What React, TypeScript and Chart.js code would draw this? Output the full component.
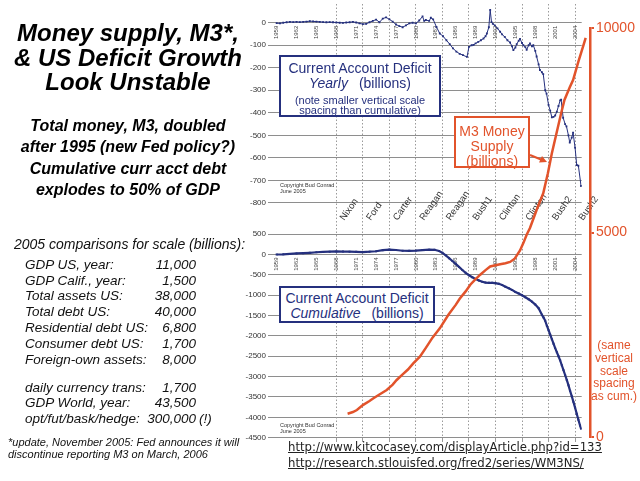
import React, { useEffect, useRef } from "react";
import { Chart, registerables } from "chart.js";

Chart.register(...registerables);

// ---------------- data ----------------
const TICK_YEARS = [1959, 1962, 1965, 1968, 1971, 1974, 1977, 1980, 1983, 1986, 1989, 1992, 1995, 1998, 2001, 2004];
const ELECTION_YEARS = [1968, 1972, 1976, 1980, 1984, 1988, 1992, 1996, 2000, 2004];
const PRESIDENTS = ["Nixon", "Ford", "Carter", "Reagan", "Reagan", "Bush1", "Clinton", "Clinton", "Bush2", "Bush2"];
const YEARLY_TICKS = [0, -100, -200, -300, -400, -500, -600, -700, -800];
const CUM_TICKS = [500, 0, -500, -1000, -1500, -2000, -2500, -3000, -3500, -4000, -4500];
const M3_TICKS = [0, 5000, 10000];

// Current account deficit, yearly rate (billions)
const YEARLY_X = [
  1959.0, 1959.5, 1960.0, 1960.5, 1961.0, 1961.5, 1962.0, 1962.5, 1963.0, 1963.5,
  1964.0, 1964.5, 1965.0, 1965.5, 1966.0, 1966.5, 1967.0, 1967.5, 1968.0, 1968.5,
  1969.0, 1969.5, 1970.0, 1970.5, 1971.0, 1971.5, 1972.0, 1972.5, 1973.0, 1973.5,
  1974.0, 1974.5, 1975.0, 1975.5, 1976.0, 1976.5, 1977.0, 1977.5, 1978.0, 1978.5,
  1979.0, 1979.5, 1980.0, 1980.5, 1981.0, 1981.25, 1981.5, 1982.0, 1982.25, 1982.6,
  1983.1, 1983.6, 1984.1, 1984.6, 1985.1, 1985.6, 1986.1, 1986.6, 1987.1, 1987.7,
  1988.0, 1988.4, 1988.7, 1989.0, 1989.4, 1989.8, 1990.2, 1990.5, 1990.7, 1991.0,
  1991.2, 1991.4, 1991.6, 1991.9, 1992.3, 1992.7, 1993.0, 1993.4, 1993.8, 1994.2,
  1994.5, 1994.7, 1995.0, 1995.2, 1995.5, 1995.7, 1996.0, 1996.2, 1996.5, 1996.7,
  1997.0, 1997.2, 1997.5, 1997.7, 1998.0, 1998.2, 1998.5, 1998.7, 1999.0, 1999.2,
  1999.5, 1999.7, 2000.0, 2000.25, 2000.5, 2000.75, 2001.0, 2001.25, 2001.5, 2001.75,
  2001.9, 2002.2, 2002.5, 2002.7, 2003.0, 2003.2, 2003.5, 2003.7, 2004.0, 2004.25,
  2004.5, 2004.9,
];
const YEARLY_VALUES = [
  -2, -3, 0, 2, 4, 3, 4, 3, 4, 5,
  7, 6, 5, 4, 3, 2, 3, 2, 1, 0,
  -1, 1, 2, 4, 1, -3, -6, -5, 2, 8,
  14, 2, 18, 24, 15, 5, -8, -15, -20, -12,
  -3, 0, -3, 10, 28, 8, 12, 8, 22, 15,
  -19, -48, -60, -78, -95, -114, -128, -138, -144, -152,
  -107, -100, -98, -92, -85, -78, -70, -60, -48, -20,
  57, 3, -5, -12, -25, -40, -52, -63, -78, -88,
  -105, -122, -110, -95, -80, -72, -90, -100, -108, -120,
  -100, -92, -105, -100, -125, -150, -185, -210, -220, -228,
  -300, -315, -365, -390, -420, -418, -412, -395, -370, -345,
  -342, -422, -450, -460, -500, -532, -510, -488, -555, -632,
  -635, -725,
];

// Current account deficit, cumulative (billions)
const CUM_X = [
  1959, 1960, 1961, 1962, 1963, 1964, 1965, 1966, 1967, 1968,
  1969, 1970, 1971, 1972, 1973, 1974, 1975, 1976, 1977, 1978,
  1979, 1980, 1981, 1982, 1982.8, 1983.5, 1984.0, 1984.5, 1985.0, 1985.5,
  1986.0, 1986.5, 1987.0, 1987.5, 1988.0, 1988.5, 1989.0, 1989.5, 1990.0, 1990.5,
  1991.0, 1991.5, 1992.0, 1992.5, 1993.0, 1993.5, 1994.0, 1994.5, 1995.0, 1995.5,
  1996.0, 1996.5, 1997.0, 1997.5, 1998.0, 1998.5, 1999.0, 1999.25, 1999.5, 1999.75,
  2000.0, 2000.25, 2000.5, 2000.75, 2001.0, 2001.25, 2001.5, 2001.75, 2002.0, 2002.25,
  2002.5, 2002.75, 2003.0, 2003.25, 2003.5, 2003.75, 2004.0, 2004.25, 2004.5, 2004.75,
  2004.9,
];
const CUM_VALUES = [
  0, 5, 15, 25, 32, 42, 55, 62, 70, 75,
  72, 70, 66, 60, 68, 80, 105, 120, 110, 92,
  90, 95, 108, 118, 115, 85, 40, -20, -90, -160,
  -230, -305, -380, -450, -510, -560, -600, -640, -670, -690,
  -695, -695, -705, -720, -750, -790, -830, -870, -920, -960,
  -1000, -1050, -1100, -1160, -1230, -1320, -1480, -1550, -1630, -1750,
  -1860, -1970, -2080, -2190, -2300, -2400, -2500, -2600, -2720, -2840,
  -2960, -3080, -3210, -3350, -3480, -3620, -3760, -3910, -4060, -4200,
  -4280,
];

// M3 money supply (billions)
const M3_X = [
  1969.7, 1970.5, 1971.1, 1972.0, 1973.0, 1973.6, 1974.5, 1975.6, 1976.5, 1977.1,
  1978.0, 1978.8, 1979.6, 1980.6, 1981.5, 1982.5, 1983.6, 1984.9, 1986.0, 1986.6,
  1987.5, 1988.2, 1989.0, 1989.7, 1990.5, 1991.2, 1992.0, 1992.7, 1993.5, 1994.2,
  1994.9, 1995.7, 1996.2, 1996.7, 1997.2, 1998.2, 1999.2, 1999.9, 2000.5, 2001.2,
  2001.9, 2002.4, 2003.2, 2003.7, 2004.5, 2005.2, 2005.6,
];
const M3_VALUES = [
  570, 610, 660, 780, 880, 946, 1040, 1149, 1280, 1394,
  1530, 1650, 1800, 1963, 2180, 2430, 2657, 2990, 3230, 3380,
  3560, 3724, 3860, 3968, 4080, 4170, 4200, 4225, 4250, 4280,
  4360, 4560, 4740, 4946, 5110, 5550, 5958, 6447, 6936, 7425,
  7914, 8240, 8550, 8729, 9176, 9543, 9760,
];

// text content
const TITLE_LINES = ["Money supply, M3*,", "& US Deficit Growth", "Look Unstable"];
const NOTE_LINES = ["Total money, M3, doubled", "after 1995 (new Fed policy?)", "Cumulative curr acct debt", "explodes to 50% of GDP"];
const COMPARE_HEADER = "2005 comparisons for scale (billions):";
const COMPARE_LABELS = [
  "GDP US, year:", "GDP Calif., year:", "Total assets US:", "Total debt US:", "Residential debt US:",
  "Consumer debt US:", "Foreign-own assets:", "daily currency trans:", "GDP World, year:", "opt/fut/bask/hedge:",
];
const COMPARE_VALUES = ["11,000", "1,500", "38,000", "40,000", "6,800", "1,700", "8,000", "1,700", "43,500", "300,000"];
const COMPARE_NOTES = ["", "", "", "", "", "", "", "", "", "(!)"];
const FOOTNOTE_LINES = ["*update, November 2005: Fed announces it will", "discontinue reporting M3 on March, 2006"];
const URLS = ["http://www.kitcocasey.com/displayArticle.php?id=133", "http://research.stlouisfed.org/fred2/series/WM3NS/"];
const SAME_SCALE_LINES = ["(same", "vertical", "scale", "spacing", "as cum.)"];

// ---------------- layout / style ----------------
const W = 640, H = 481;
const PLOT_LEFT = 272, PLOT_RIGHT = 581.7, PLOT_BOTTOM = 437.7;
const Y_LABEL_W = 40;
const SPLIT_PX = 216; // boundary between the two stacked value axes (inside the gap)
const X_MIN = 1958.3, X_MAX = 2005.0;
const TOP_ZERO_PX = 18.9, TOP_LOW_PX = 200.7; // -800 line
const BOT_ZERO_PX = 252.8; // -4500 sits on PLOT_BOTTOM
const M3_AXIS_X = 590, M3_TOP_PX = 28, M3_ZERO_PX = 437;

const NAVY = "#25307e";
const RED = "#e2532b";
const GRID = "#8e8e8e";
const SANS = '"Liberation Sans", Arial, Helvetica, sans-serif';

const topPx = (TOP_LOW_PX - TOP_ZERO_PX) / 800;
const Y_TOP_MAX = TOP_ZERO_PX / topPx;
const Y_TOP_MIN = -(SPLIT_PX - TOP_ZERO_PX) / topPx;
const botPx = (PLOT_BOTTOM - BOT_ZERO_PX) / 4500;
const Y_BOT_MAX = (BOT_ZERO_PX - SPLIT_PX) / botPx;
const Y_BOT_MIN = -4500;
const X_MAX_B = X_MIN + ((X_MAX - X_MIN) * (M3_AXIS_X - PLOT_LEFT)) / (PLOT_RIGHT - PLOT_LEFT);

const zeroPad = (s: any) => {
  s.paddingTop = 0;
  s.paddingBottom = 0;
  s.paddingLeft = 0;
  s.paddingRight = 0;
};
const setTicks = (vals: number[]) => (s: any) => {
  s.ticks = vals.map((v) => ({ value: v }));
};

const yearAxis = (pos: any, ticks: number[]) => ({
  type: "linear",
  axis: "x",
  min: X_MIN,
  max: X_MAX,
  bounds: "data",
  position: pos,
  afterBuildTicks: setTicks(ticks),
  afterFit: (s: any) => zeroPad(s),
  ticks: {
    autoSkip: false,
    minRotation: 90,
    maxRotation: 90,
    padding: 3,
    color: "#444",
    font: { family: SANS, size: 6 },
    callback: (v: any) => String(v),
  },
  grid: { display: false, drawTicks: false },
  border: { display: false },
});

const valueAxis = (min: number, max: number, ticks: number[], weight: number, stackWeight: number) => ({
  type: "linear",
  axis: "y",
  position: "left",
  stack: "values",
  stackWeight,
  weight,
  min,
  max,
  bounds: "data",
  afterBuildTicks: setTicks(ticks),
  afterFit: (s: any) => {
    s.width = Y_LABEL_W;
    zeroPad(s);
  },
  ticks: { autoSkip: false, padding: 2, color: "#333", font: { family: SANS, size: 8 }, callback: (v: any) => String(v) },
  grid: { color: GRID, lineWidth: 1, drawTicks: true, tickLength: 4 },
  border: { display: false },
});

const presidentPlugin = {
  id: "presidents",
  afterDraw(chart: any) {
    const ctx = chart.ctx;
    const xs = chart.scales.x;
    ctx.save();
    ctx.font = `9.5px ${SANS}`;
    ctx.fillStyle = "#333";
    ctx.textAlign = "left";
    ctx.textBaseline = "alphabetic";
    PRESIDENTS.forEach((name, i) => {
      const px = xs.getPixelForValue(ELECTION_YEARS[i]);
      ctx.save();
      ctx.translate(px + 8, 221);
      ctx.rotate((-55 * Math.PI) / 180);
      ctx.fillText(name, 0, 0);
      ctx.restore();
    });
    ctx.restore();
  },
};

function Txt(props: any) {
  const { x, cy, w, size, align = "left", color = "#000", weight = 400, italic = false, family = SANS, underline = false, children } = props;
  return (
    <div
      style={{
        position: "absolute",
        left: x,
        top: cy - size * 0.6,
        width: w,
        height: size * 1.2,
        lineHeight: `${size * 1.2}px`,
        fontSize: size,
        fontFamily: family,
        fontWeight: weight,
        fontStyle: italic ? "italic" : "normal",
        color,
        textAlign: align,
        whiteSpace: "nowrap",
        textDecoration: underline ? "underline" : "none",
      }}
    >
      {children}
    </div>
  );
}

export default function App() {
  const refA = useRef<HTMLCanvasElement>(null);
  const refB = useRef<HTMLCanvasElement>(null);

  useEffect(() => {
    const chartA = new Chart(refA.current as any, {
      type: "line",
      data: {
        datasets: [
          {
            label: "Yearly",
            data: YEARLY_X.map((x, i) => ({ x, y: YEARLY_VALUES[i] })),
            xAxisID: "x",
            yAxisID: "yTop",
            borderColor: NAVY,
            backgroundColor: NAVY,
            borderWidth: 1,
            pointRadius: 1.3,
            pointStyle: "rect",
            pointBorderWidth: 0,
          },
          {
            label: "Cumulative",
            data: CUM_X.map((x, i) => ({ x, y: CUM_VALUES[i] })),
            xAxisID: "x",
            yAxisID: "yBot",
            borderColor: NAVY,
            backgroundColor: NAVY,
            borderWidth: 2.2,
            pointRadius: 1.4,
            pointStyle: "rect",
            pointBorderWidth: 0,
          },
        ],
      },
      options: {
        responsive: false,
        animation: false,
        events: [],
        layout: { padding: { left: PLOT_LEFT - Y_LABEL_W, right: W - PLOT_RIGHT, top: 0, bottom: H - PLOT_BOTTOM } },
        plugins: { legend: { display: false }, tooltip: { enabled: false }, title: { display: false } },
        scales: {
          yTop: valueAxis(Y_TOP_MIN, Y_TOP_MAX, YEARLY_TICKS, 2, SPLIT_PX),
          yBot: valueAxis(Y_BOT_MIN, Y_BOT_MAX, CUM_TICKS, 1, PLOT_BOTTOM - SPLIT_PX),
          x: yearAxis({ yTop: 0 }, TICK_YEARS),
          xBot: yearAxis({ yBot: 0 }, TICK_YEARS),
          xGrid: {
            type: "linear",
            axis: "x",
            min: X_MIN,
            max: X_MAX,
            bounds: "data",
            position: { yBot: Y_BOT_MIN },
            afterBuildTicks: setTicks(ELECTION_YEARS),
            afterFit: (s: any) => zeroPad(s),
            ticks: { display: false, autoSkip: false },
            grid: { color: "#9a9a9a", lineWidth: 1, drawTicks: true, tickLength: 4 },
            border: { display: false, dash: [1.5, 2] },
          },
        },
      } as any,
      plugins: [presidentPlugin],
    } as any);

    const chartB = new Chart(refB.current as any, {
      type: "line",
      data: {
        datasets: [
          {
            label: "M3",
            data: M3_X.map((x, i) => ({ x, y: M3_VALUES[i] })),
            xAxisID: "x",
            yAxisID: "m3",
            borderColor: RED,
            borderWidth: 2.5,
            pointRadius: 0,
          },
        ],
      },
      options: {
        responsive: false,
        animation: false,
        events: [],
        layout: { padding: { left: PLOT_LEFT, right: 0, top: M3_TOP_PX, bottom: H - M3_ZERO_PX } },
        plugins: { legend: { display: false }, tooltip: { enabled: false } },
        scales: {
          x: { type: "linear", axis: "x", min: X_MIN, max: X_MAX_B, bounds: "data", display: false },
          m3: {
            type: "linear",
            axis: "y",
            position: "right",
            min: 0,
            max: 10000,
            bounds: "data",
            afterBuildTicks: setTicks(M3_TICKS),
            afterFit: (s: any) => {
              s.width = W - M3_AXIS_X;
              zeroPad(s);
            },
            ticks: { autoSkip: false, padding: 2, color: RED, font: { family: SANS, size: 14 }, callback: (v: any) => String(v) },
            grid: { drawOnChartArea: false, drawTicks: true, tickLength: 4, color: RED, lineWidth: 2 },
            border: { display: true, color: RED, width: 2.5 },
          },
        },
      } as any,
    } as any);

    return () => {
      chartA.destroy();
      chartB.destroy();
    };
  }, []);

  const titleCy = [33.3, 58.3, 82.7];
  const noteCy = [126, 146.5, 169, 189.5];
  const rowCy = [265, 281, 296.5, 312, 328, 344, 360, 388, 403.5, 419];
  const footCy = [443, 455];
  const sameCy = [345, 358, 370.7, 383.3, 396.5];

  return (
    <div style={{ position: "fixed", left: 0, top: 0, width: W, height: H, background: "#fff", overflow: "hidden" }}>
      <canvas ref={refA} width={W} height={H} style={{ position: "absolute", left: 0, top: 0, display: "block" }} />
      <canvas ref={refB} width={W} height={H} style={{ position: "absolute", left: 0, top: 0, display: "block" }} />

      {/* left column */}
      {TITLE_LINES.map((t, i) => (
        <Txt key={"t" + i} x={0} w={256} cy={titleCy[i]} size={24} align="center" weight={700} italic color="#000">
          {t}
        </Txt>
      ))}
      {NOTE_LINES.map((t, i) => (
        <Txt key={"n" + i} x={0} w={256} cy={noteCy[i]} size={16} align="center" weight={700} italic color="#000">
          {t}
        </Txt>
      ))}
      <Txt x={14} w={240} cy={244} size={14} italic color="#111">
        {COMPARE_HEADER}
      </Txt>
      {COMPARE_LABELS.map((t, i) => (
        <React.Fragment key={"c" + i}>
          <Txt x={25} w={150} cy={rowCy[i]} size={13.5} italic color="#111">
            {t}
          </Txt>
          <Txt x={126} w={70} cy={rowCy[i]} size={13.5} italic color="#111" align="right">
            {COMPARE_VALUES[i]}
          </Txt>
          {COMPARE_NOTES[i] ? (
            <Txt x={199} w={40} cy={rowCy[i]} size={13.5} italic color="#111">
              {COMPARE_NOTES[i]}
            </Txt>
          ) : null}
        </React.Fragment>
      ))}
      {FOOTNOTE_LINES.map((t, i) => (
        <Txt key={"f" + i} x={8} w={240} cy={footCy[i]} size={11} italic color="#111">
          {t}
        </Txt>
      ))}

      {/* yearly box */}
      <div style={{ position: "absolute", left: 279, top: 55, width: 162, height: 62, border: `2px solid ${NAVY}`, background: "#fff", boxSizing: "border-box" }} />
      <Txt x={279} w={162} cy={68} size={14} align="center" color={NAVY}>
        Current Account Deficit
      </Txt>
      <Txt x={279} w={162} cy={83} size={14} align="center" color={NAVY}>
        <span style={{ fontStyle: "italic", marginRight: 11 }}>Yearly</span>(billions)
      </Txt>
      <Txt x={279} w={162} cy={100.5} size={11} align="center" color={NAVY}>
        (note smaller vertical scale
      </Txt>
      <Txt x={279} w={162} cy={111} size={11} align="center" color={NAVY}>
        spacing than cumulative)
      </Txt>

      {/* cumulative box */}
      <div style={{ position: "absolute", left: 279, top: 286, width: 156, height: 37, border: `2px solid ${NAVY}`, background: "#fff", boxSizing: "border-box" }} />
      <Txt x={279} w={156} cy={298} size={14} align="center" color={NAVY}>
        Current Account Deficit
      </Txt>
      <Txt x={279} w={156} cy={313} size={14} align="center" color={NAVY}>
        <span style={{ fontStyle: "italic", marginRight: 11 }}>Cumulative</span>(billions)
      </Txt>

      {/* M3 label box */}
      <div style={{ position: "absolute", left: 454, top: 116, width: 76, height: 52, border: `2px solid ${RED}`, background: "#fff", boxSizing: "border-box" }} />
      {["M3 Money", "Supply", "(billions)"].map((t, i) => (
        <Txt key={"m" + i} x={454} w={76} cy={131 + i * 15} size={14} align="center" color={RED}>
          {t}
        </Txt>
      ))}
      <svg width={W} height={H} style={{ position: "absolute", left: 0, top: 0, pointerEvents: "none" }}>
        <line x1={530} y1={155} x2={541} y2={159.5} stroke={RED} strokeWidth={2} />
        <polygon points="547,162 539,162.5 542,156" fill={RED} />
      </svg>

      {/* right note */}
      {SAME_SCALE_LINES.map((t, i) => (
        <Txt key={"s" + i} x={589} w={50} cy={sameCy[i]} size={12} align="center" color={RED}>
          {t}
        </Txt>
      ))}

      {/* copyrights */}
      <Txt x={280} w={80} cy={185} size={5.5} color="#333">Copyright Bud Conrad</Txt>
      <Txt x={280} w={80} cy={191.5} size={5.5} color="#333">June 2005</Txt>
      <Txt x={280} w={80} cy={425} size={5.5} color="#333">Copyright Bud Conrad</Txt>
      <Txt x={280} w={80} cy={431.5} size={5.5} color="#333">June 2005</Txt>

      {/* urls */}
      {URLS.map((u, i) => (
        <Txt key={"u" + i} x={288} w={340} cy={447 + i * 16} size={11.7} family='"DejaVu Sans", Verdana, sans-serif' color="#222" underline>
          {u}
        </Txt>
      ))}
    </div>
  );
}
